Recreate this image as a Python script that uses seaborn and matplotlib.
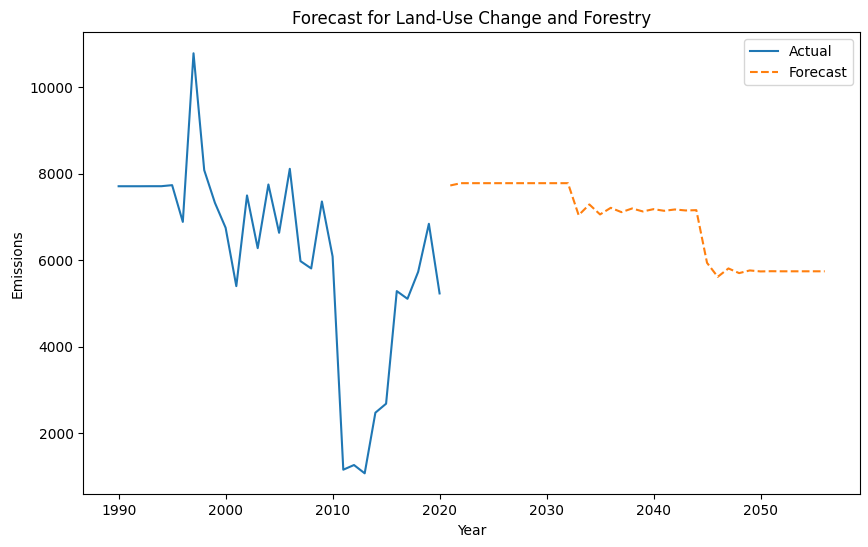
import pandas as pd
import matplotlib
matplotlib.use("Agg")
import matplotlib.pyplot as plt
import seaborn as sns

# actual emissions 1990-2020
actual_years = list(range(1990, 2021))
actual_values = [7715, 7715, 7715, 7716, 7716, 7740, 6890, 10790, 8088, 7332,
                 6755, 5405, 7502, 6283, 7756, 6638, 8118, 5983, 5814, 7363,
                 6091, 1160, 1268, 1076, 2478, 2686, 5290, 5112, 5737, 6847,
                 5236]

# forecast 2021-2056
forecast_years = list(range(2021, 2057))
forecast_values = [7733, 7786, 7786, 7786, 7786, 7786, 7786, 7786, 7786, 7786,
                   7786, 7786, 7046, 7294, 7063, 7216, 7116, 7201, 7132, 7185,
                   7147, 7178, 7155, 7162, 5944, 5620, 5814, 5706, 5768, 5745,
                   5750, 5748, 5748, 5748, 5748, 5748]

df_actual = pd.DataFrame({"Year": actual_years, "Emissions": actual_values})
df_fc = pd.DataFrame({"Year": forecast_years, "Emissions": forecast_values})

fig = plt.figure(figsize=(8.68, 5.47), dpi=100)
ax = fig.add_subplot(111)
fig.subplots_adjust(left=0.096, right=0.9908, top=0.941, bottom=0.0963)

sns.lineplot(x="Year", y="Emissions", data=df_actual, ax=ax, label="Actual", color="#1f77b4")
sns.lineplot(x="Year", y="Emissions", data=df_fc, ax=ax, label="Forecast",
             color="#ff7f0e", linestyle="--")

ax.set_title("Forecast for Land-Use Change and Forestry")
ax.set_xlabel("Year")
ax.set_ylabel("Emissions")
ax.legend(loc="upper right")

plt.savefig("out.png", dpi=100)
